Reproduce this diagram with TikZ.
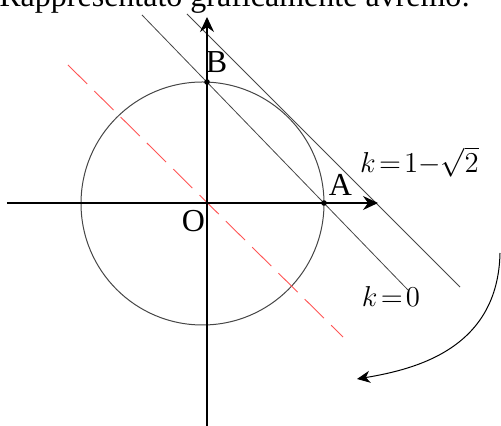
\documentclass[tikz,border=0pt]{standalone}
\usepackage{fontspec}
\setmainfont{Liberation Serif}
\usetikzlibrary{arrows.meta}
\definecolor{DashRed}{RGB}{255,85,85}
\definecolor{LineGray}{RGB}{70,70,70}

\begin{document}
\begin{tikzpicture}[
    x=0.5pt,
    y=0.5pt,
    axis/.style={
        -{Stealth[length=7.5pt,width=7pt,inset=2.5pt]},
        line width=0.6pt
    },
    kline/.style={
        draw=LineGray,
        line width=0.4pt
    },
    dashline/.style={
        draw=DashRed,
        line width=0.45pt,
        dash pattern=on 13.5pt off 5pt
    },
    curvearrow/.style={
        -{Stealth[length=6.5pt,width=6pt,inset=2pt]},
        line width=0.5pt
    },
    dot/.style={
        circle,
        fill=black,
        inner sep=0pt,
        minimum size=2.8pt
    },
    lbl/.style={
        inner sep=0pt,
        font=\fontsize{16}{19}\selectfont
    },
    eq/.style={
        inner sep=0pt,
        anchor=base,
        font=\fontsize{14.5}{17}\selectfont
    }
]

\useasboundingbox (-207,-223) rectangle (294,203);

\node[lbl, anchor=base west] (title) at (-208,196)
    {Rappresentato graficamente avremo:};

\coordinate (O) at (0,0);
\coordinate (C) at (-4.5,-0.5);

\coordinate (xl) at (-200,0);
\coordinate (xr) at (171,0);
\coordinate (yb) at (0,-224);
\coordinate (yt) at (0,186);

\coordinate (k0a) at (-65,188);
\coordinate (k0b) at (201,-87);
\coordinate (k1a) at (-20,189);
\coordinate (k1b) at (253,-84);
\coordinate (ra) at (-139,138);
\coordinate (rb) at (136,-134);

\coordinate (cs) at (293,-50);
\coordinate (ce) at (150,-176);


\draw[kline, line width=0.5pt] (C) circle[radius=121.5];

\draw[dashline] (ra) -- (rb);
\draw[kline] (k0a) -- (k0b);
\draw[kline] (k1a) -- (k1b);

\draw[axis] (xl) -- (xr);
\draw[axis] (yb) -- (yt);


\node[dot] (A) at (117,0) {};
\node[dot] (B) at (0,121) {};

\node[lbl] (Blbl) at (9.5,140.5) {B};
\node[lbl] (Albl) at (133.5,18) {A};
\node[lbl] (Olbl) at (-13.5,-18.5) {O};

\node[eq] (keq1) at (212.5,30) {$\thickmuskip=2mu k=1{-}\sqrt{2}$};
\node[eq] (keq0) at (184,-104) {$\thickmuskip=2mu k=0$};


\draw[curvearrow] (cs) .. controls (291,-145) and (210,-166) .. (ce);

\end{tikzpicture}
\end{document}
